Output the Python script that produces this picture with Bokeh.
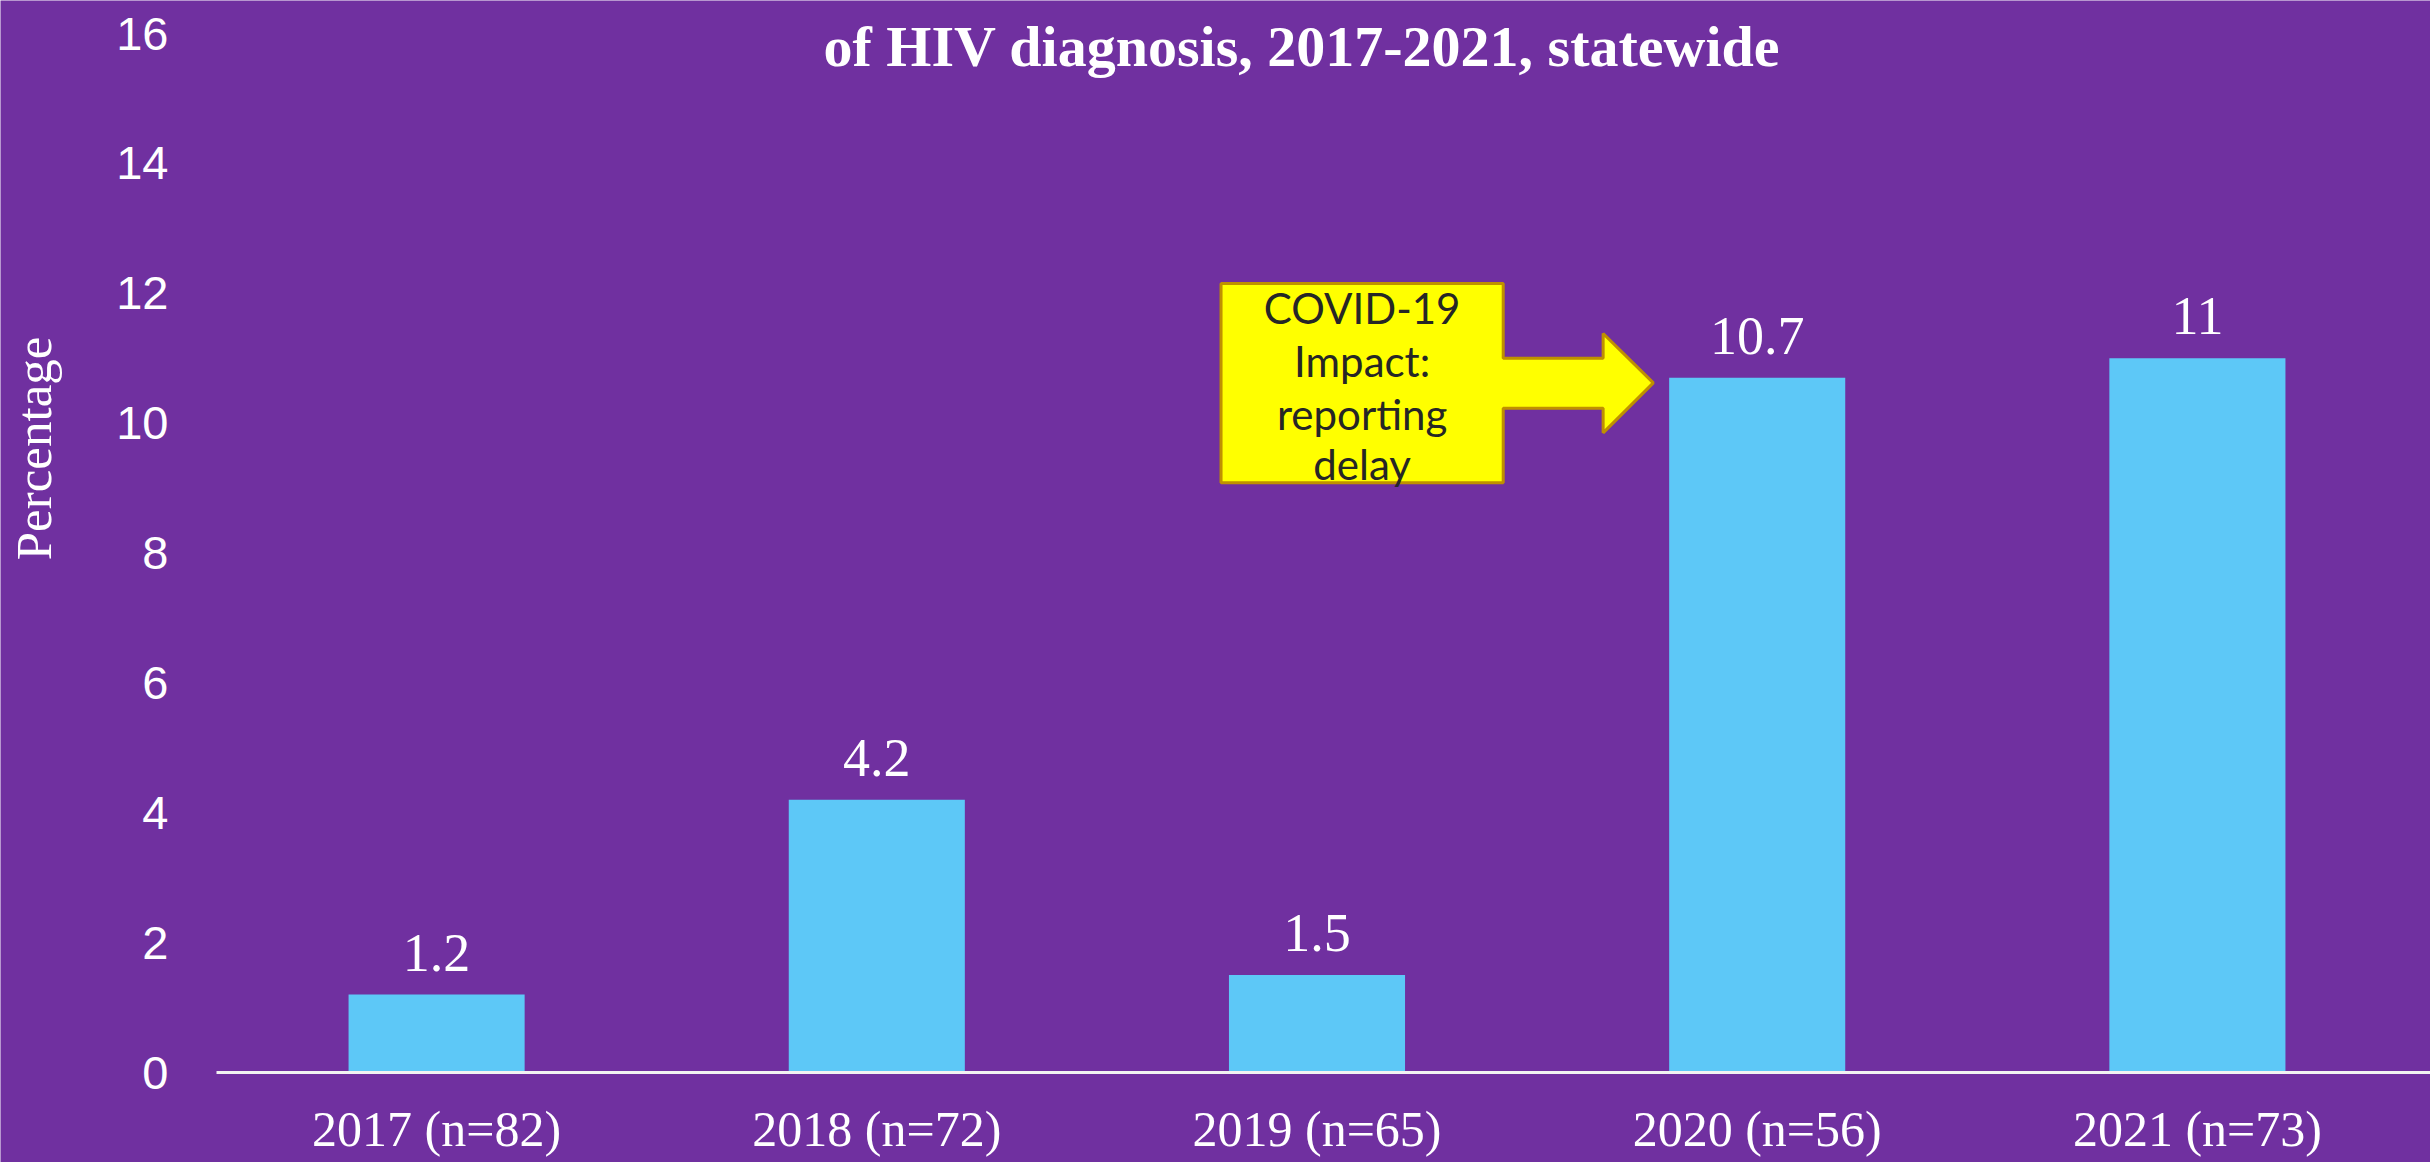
import numpy as np
from bokeh.plotting import figure
from bokeh.models import Range1d, Label, LabelSet, ColumnDataSource
from bokeh.core.properties import value
from bokeh.embed import file_html
from bokeh.resources import INLINE

# ---- data ----
categories = ["2017 (n=82)", "2018 (n=72)", "2019 (n=65)", "2020 (n=56)", "2021 (n=73)"]
values = [1.2, 4.2, 1.5, 10.7, 11]
y_ticks = [0, 2, 4, 6, 8, 10, 12, 14, 16]
title_text = "of HIV diagnosis, 2017-2021, statewide"
y_label = "Percentage"
callout_lines = ["COVID-19", "Impact:", "reporting", "delay"]
callout_target = "2020 (n=56)"

# ---- layout / styles ----
W, H = 2430, 1162
PLOT_LEFT_PX, PLOT_RIGHT_PAD = 216, 13   # where x=0 sits, space right of the last slot
ZERO_PX, TOP_TICK_PX = 1072, 33          # pixel rows of y=0 and y=16
BG = "#7030A0"
BAR = "#5DC8F7"
WHITE = "#FFFFFF"
BAR_WIDTH = 0.4

n = len(categories)
ppx = (W - PLOT_LEFT_PX - PLOT_RIGHT_PAD) / n
x_start = -PLOT_LEFT_PX / ppx
x_end = n + PLOT_RIGHT_PAD / ppx
ppu = (ZERO_PX - TOP_TICK_PX) / (y_ticks[-1] - y_ticks[0])
y_start = -(H - ZERO_PX) / ppu
y_end = y_ticks[-1] + TOP_TICK_PX / ppu

xs = np.arange(n) + 0.5

p = figure(width=W, height=H, output_backend="svg", toolbar_location=None,
           title=None,
           x_range=Range1d(x_start, x_end), y_range=Range1d(y_start, y_end),
           min_border=0,
           background_fill_color=BG, border_fill_color=BG, outline_line_color=None)
p.xgrid.visible = False
p.ygrid.visible = False
p.xaxis.visible = False
p.yaxis.visible = False

src = ColumnDataSource(dict(x=xs, top=values, cat=categories,
                            lbl=[f"{v:g}" for v in values], zero=[0] * n))

# bars
p.vbar(x="x", top="top", width=BAR_WIDTH, source=src, fill_color=BAR, line_color=None)

# category axis line
p.segment(x0=[0], y0=[0], x1=[x_end], y1=[0], line_color="#F2F2F2", line_width=3)

# y tick labels
tick_src = ColumnDataSource(dict(y=y_ticks, x=[0] * len(y_ticks), t=[str(t) for t in y_ticks]))
p.add_layout(LabelSet(x="x", y="y", text="t", source=tick_src, x_offset=-48,
                      text_align="right", text_baseline="middle",
                      text_font=value("Liberation Sans"), text_font_size="47px",
                      text_color=WHITE))

# y-axis title
p.add_layout(Label(x=x_start + 33 / ppx, y=9.61, text=y_label, angle=np.pi / 2,
                   text_align="center", text_baseline="middle",
                   text_font="Liberation Serif", text_font_size="51px", text_color=WHITE))

# value labels
p.add_layout(LabelSet(x="x", y="top", text="lbl", source=src, y_offset=24,
                      text_align="center", text_baseline="alphabetic",
                      text_font=value("Liberation Serif"), text_font_size="54px",
                      text_color=WHITE))

# category labels
p.add_layout(LabelSet(x="x", y="zero", text="cat", source=src, y_offset=-56,
                      text_align="center", text_baseline="middle",
                      text_font=value("Liberation Serif"), text_font_size="50px",
                      text_color=WHITE))

# title (second line visible)
p.add_layout(Label(x=n / 2 - 0.034, y=15.8, text=title_text,
                   text_align="center", text_baseline="middle",
                   text_font="Liberation Serif", text_font_style="bold",
                   text_font_size="58px", text_color=WHITE))

# callout arrow pointing at the 2020 bar
ti = categories.index(callout_target)
tip_x = xs[ti] - BAR_WIDTH / 2 - 0.036
tip_y = values[ti] - 0.08
box_l, box_r, box_t, box_b = tip_x - 0.982, tip_x - 0.341, 12.15, 9.08
shaft_end = tip_x - 0.114
shaft_t, shaft_b = tip_y + 0.38, tip_y - 0.39
head_t, head_b = tip_y + 0.76, tip_y - 0.77
px_ = [box_l, box_r, box_r, shaft_end, shaft_end, tip_x, shaft_end, shaft_end, box_r, box_r, box_l]
py_ = [box_t, box_t, shaft_t, shaft_t, head_t, tip_y, head_b, shaft_b, shaft_b, box_b, box_b]
p.patch(px_, py_, fill_color="#FFFF00", line_color="#BF9000", line_width=3)

cx = (box_l + box_r) / 2
line_ys = [11.77, 10.95, 10.14, 9.37]
for t, ly in zip(callout_lines, line_ys):
    p.add_layout(Label(x=cx, y=ly, text=t, text_align="center", text_baseline="middle",
                       text_font="Lato", text_font_size="42px", text_color="#262626"))

open("out.html", "w").write(file_html(p, INLINE))
